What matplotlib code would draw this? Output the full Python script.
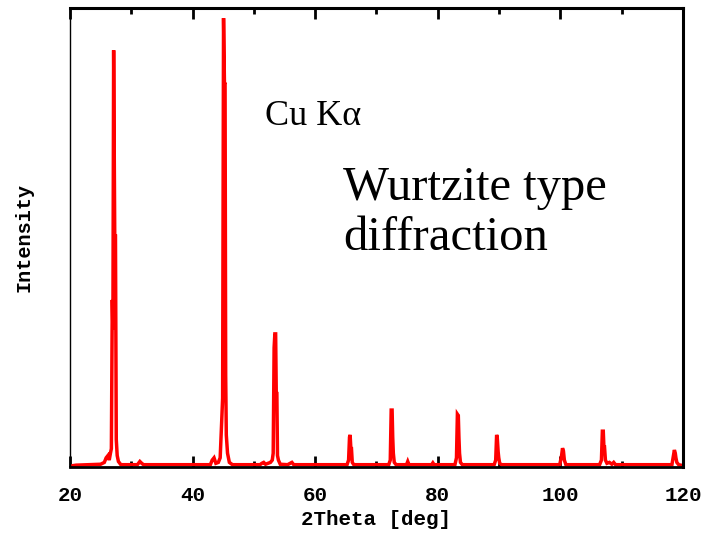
import matplotlib.pyplot as plt
from matplotlib.ticker import MultipleLocator

# XRD pattern (2theta in deg, intensity in arb. units, 1000 = top of frame)
two_theta = [20.0, 21.0, 23.0, 25.0, 25.6, 25.9, 26.2, 26.4, 26.6, 26.75, 26.9, 27.0, 27.12,
             27.3, 27.42, 27.55, 27.7, 27.9, 28.3, 31.0, 31.4, 31.7, 32.0, 36.0, 40.0,
             42.9, 43.2, 43.5, 43.8, 44.2, 44.5, 44.75, 44.9, 45.05, 45.2, 45.3, 45.4, 45.5,
             45.7, 46.0, 46.5, 51.0, 51.3, 51.6, 51.9, 52.3, 52.7, 53.0, 53.15, 53.3, 53.42,
             53.55, 53.65, 53.75, 53.85, 54.0, 54.3, 55.5, 56.2, 56.5, 60.0, 65.2, 65.45,
             65.6, 65.7, 65.82, 65.92, 66.05, 66.3, 72.0, 72.25, 72.4, 72.55, 72.65, 72.75,
             72.9, 73.2, 74.9, 75.1, 75.3, 79.0, 79.2, 79.4, 82.8, 83.05, 83.2, 83.35, 83.45,
             83.55, 83.7, 84.0, 89.2, 89.45, 89.6, 89.7, 89.85, 89.95, 90.1, 90.4, 95.0,
             99.9, 100.2, 100.35, 100.5, 100.65, 100.9, 106.4, 106.7, 106.85, 107.0, 107.1,
             107.2, 107.35, 107.6, 108.0, 108.4, 108.7, 109.0, 113.0, 118.2, 118.45, 118.6,
             118.75, 118.85, 119.0, 119.3, 120.0]
intensity = [2, 4, 5, 6, 10, 20, 25, 15, 30, 40, 364, 300, 908,
             503, 503, 60, 25, 12, 5, 5, 12, 8, 5, 5, 5,
             5, 15, 20, 8, 10, 20, 100, 150, 978, 834, 834, 200, 70,
             30, 10, 5, 5, 8, 10, 6, 8, 10, 15, 30, 260, 290,
             290, 160, 160, 25, 15, 6, 5, 10, 5, 5, 5, 15,
             65, 70, 40, 40, 10, 5, 5, 15, 124, 124, 65, 30,
             10, 5, 5, 12, 5, 5, 9, 5, 5, 20, 115, 112, 65,
             30, 10, 5, 5, 15, 70, 65, 33, 20, 8, 5, 5,
             5, 25, 41, 35, 15, 5, 5, 15, 78, 78, 44,
             44, 15, 8, 10, 6, 10, 5, 5, 5, 25, 37,
             30, 20, 10, 5, 3]

fig = plt.figure(figsize=(7.07, 5.39), dpi=100)
ax = fig.add_axes([0.099, 0.1336, 0.867, 0.8515])

ax.plot(two_theta, intensity, color='#ff0000', linewidth=2.5, solid_joinstyle='miter')

ax.set_xlim(20, 120)
ax.set_ylim(0, 1000)
ax.xaxis.set_major_locator(MultipleLocator(20))
ax.xaxis.set_minor_locator(MultipleLocator(10))
ax.set_yticks([])
ax.tick_params(axis='x', which='both', direction='in', top=True, bottom=True, width=2, pad=14)
ax.tick_params(axis='x', which='major', length=8)
ax.tick_params(axis='x', which='minor', length=4)

for name, lw in [('left', 1.0), ('right', 2.2), ('top', 2.2), ('bottom', 2.0)]:
    ax.spines[name].set_linewidth(lw)
    ax.spines[name].set_color('black')

mono = {'family': 'Liberation Mono', 'weight': 'bold'}
for lab in ax.get_xticklabels():
    lab.set_fontfamily('Liberation Mono')
    lab.set_fontweight('bold')
    lab.set_fontsize(15)
ax.set_xlabel('2Theta [deg]', fontsize=15, labelpad=3, **mono)
ax.set_ylabel('Intensity', fontsize=14.5, labelpad=26, **mono)

serif = 'Liberation Serif'
ax.text(0.318, 0.745, 'Cu K\u03b1', transform=ax.transAxes, fontsize=26, family=serif,
        va='baseline', ha='left')
ax.text(0.445, 0.582, 'Wurtzite type', transform=ax.transAxes, fontsize=35, family=serif,
        va='baseline', ha='left')
ax.text(0.445, 0.473, 'diffraction', transform=ax.transAxes, fontsize=35, family=serif,
        va='baseline', ha='left')

fig.savefig('out.png', dpi=100)
